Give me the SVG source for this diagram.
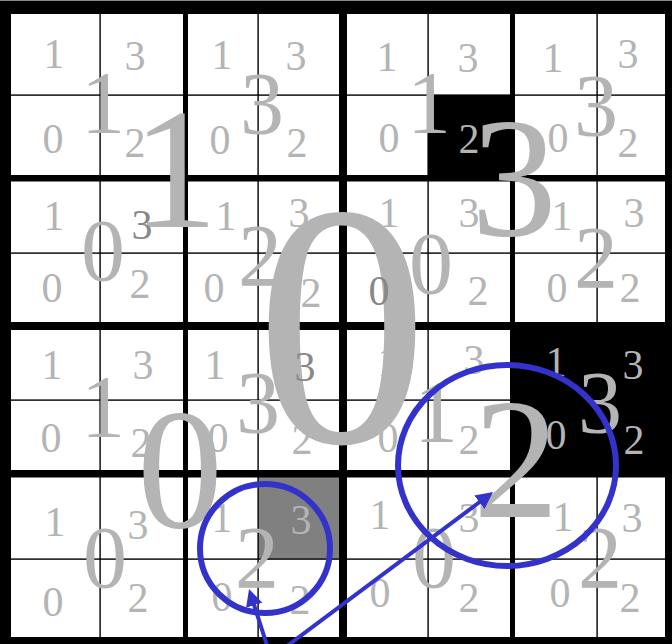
<svg xmlns="http://www.w3.org/2000/svg" width="672" height="644" viewBox="0 0 672 644">
<style>
text{font-family:"Liberation Serif","Times New Roman",serif;fill:#b4b4b4;text-anchor:middle}
.s{font-size:42px}
.m{font-size:88px}
.b{font-size:172px}
.h{font-size:346px}
.d{fill:#888}
.k{fill:#000}
.ring{fill:none;stroke:#3333cc;stroke-width:6}
.arr{stroke:#3333cc;stroke-width:4;fill:none}
</style>
<defs>
<marker id="ah" markerUnits="userSpaceOnUse" markerWidth="20" markerHeight="18" refX="2" refY="8.5" orient="auto">
<path d="M0,0 L17,8.5 L0,17 Z" fill="#3333cc"/>
</marker>
</defs>
<rect x="0" y="0" width="672" height="644" fill="#fff"/>
<g id="fills">
<rect x="428" y="95" width="84" height="83" fill="#000"/>
<rect x="512" y="326" width="153" height="148" fill="#000"/>
<rect x="258" y="474" width="85" height="85" fill="#808080"/>
</g>
<g id="grid" fill="#000">
<rect x="99.4" y="14" width="1.4" height="623"/>
<rect x="257.4" y="14" width="1.4" height="623"/>
<rect x="427.4" y="14" width="1.4" height="623"/>
<rect x="596.4" y="14" width="1.4" height="623"/>
<rect x="11" y="94.4" width="654" height="1.4"/>
<rect x="11" y="252.4" width="654" height="1.4"/>
<rect x="11" y="399.4" width="654" height="1.4"/>
<rect x="11" y="558.4" width="654" height="1.4"/>
<rect x="183" y="14" width="5" height="623"/>
<rect x="510" y="14" width="5" height="623"/>
<rect x="11" y="175" width="654" height="6.5"/>
<rect x="11" y="470" width="654" height="7.5"/>
<rect x="339" y="14" width="8" height="623"/>
<rect x="11" y="322" width="654" height="8"/>
<rect x="0" y="1" width="672" height="13"/>
<rect x="0" y="0" width="11" height="644"/>
<rect x="665" y="0" width="7" height="644"/>
<rect x="0" y="637" width="672" height="7"/>
<rect x="0" y="0" width="672" height="1" fill="#888"/>
</g>
<g id="root"><text class="h" x="342" y="442">0</text></g>
<g id="q1"><text class="b" x="175" y="227">1</text></g>
<g id="q3"><text class="b" x="514" y="235">3</text></g>
<g id="q0"><text class="b" x="180" y="527">0</text></g>
<g id="q2"><text class="b" x="516" y="517">2</text></g>
<g id="A1">
<text class="m" x="103" y="132">1</text>
<text class="s" x="54" y="68">1</text><text class="s" x="135" y="70">3</text><text class="s" x="53" y="153">0</text><text class="s" x="135" y="157">2</text>
</g>
<g id="A2">
<text class="m" x="262" y="133">3</text>
<text class="s" x="222" y="69">1</text><text class="s" x="296" y="70">3</text><text class="s" x="220" y="154">0</text><text class="s" x="297" y="157">2</text>
</g>
<g id="A3">
<text class="m" x="429" y="132">1</text>
<text class="s" x="387" y="71">1</text><text class="s" x="468" y="72">3</text><text class="s" x="389" y="152">0</text><text class="s" x="469" y="153">2</text>
</g>
<g id="A4">
<text class="m" x="596" y="135">3</text>
<text class="s" x="553" y="72">1</text><text class="s" x="628" y="68">3</text><text class="s" x="558" y="152">0</text><text class="s" x="628" y="157">2</text>
</g>
<g id="B1">
<text class="m" x="103" y="280">0</text>
<text class="s" x="54" y="230">1</text><text class="s d" x="142" y="239">3</text><text class="s" x="52" y="302">0</text><text class="s" x="140" y="298">2</text>
</g>
<g id="B2">
<text class="m" x="260" y="285">2</text>
<text class="s" x="226" y="230">1</text><text class="s" x="299" y="227">3</text><text class="s" x="214" y="302">0</text><text class="s" x="311" y="307">2</text>
</g>
<g id="B3">
<text class="m" x="431" y="293">0</text>
<text class="s" x="389" y="227">1</text><text class="s" x="469" y="227">3</text><text class="s d" x="379" y="305">0</text><text class="s" x="478" y="305">2</text>
</g>
<g id="B4">
<text class="m" x="596" y="287">2</text>
<text class="s" x="562" y="230">1</text><text class="s" x="634" y="227">3</text><text class="s" x="557" y="302">0</text><text class="s" x="630" y="302">2</text>
</g>
<g id="C1">
<text class="m" x="103" y="436">1</text>
<text class="s" x="52" y="379">1</text><text class="s" x="143" y="379">3</text><text class="s" x="51" y="452">0</text><text class="s" x="141" y="457">2</text>
</g>
<g id="C2">
<text class="m" x="258" y="432">3</text>
<text class="s" x="215" y="379">1</text><text class="s d" x="305" y="381">3</text><text class="s" x="218" y="452">0</text><text class="s" x="302" y="454">2</text>
</g>
<g id="C3">
<text class="m" x="436" y="441">1</text>
<text class="s" x="388" y="376">1</text><text class="s" x="474" y="374">3</text><text class="s" x="388" y="452">0</text><text class="s" x="469" y="454">2</text>
</g>
<g id="C4">
<text class="m" x="600" y="432">3</text>
<text class="s" x="556" y="376">1</text><text class="s" x="633" y="379">3</text><text class="s" x="556" y="449">0</text><text class="s" x="634" y="454">2</text>
</g>
<g id="D1">
<text class="m" x="105" y="587">0</text>
<text class="s" x="55" y="536">1</text><text class="s" x="138" y="539">3</text><text class="s" x="53" y="616">0</text><text class="s" x="138" y="612">2</text>
</g>
<g id="D2">
<text class="m" x="257" y="587">2</text>
<text class="s" x="222" y="532">1</text><text class="s" x="301" y="534">3</text><text class="s" x="222" y="611">0</text><text class="s" x="300" y="614">2</text>
</g>
<g id="D3">
<text class="m" x="434" y="587">0</text>
<text class="s" x="380" y="529">1</text><text class="s" x="469" y="532">3</text><text class="s" x="380" y="607">0</text><text class="s" x="469" y="612">2</text>
</g>
<g id="D4">
<text class="m" x="600" y="587">2</text>
<text class="s" x="563" y="531">1</text><text class="s" x="632" y="532">3</text><text class="s" x="560" y="607">0</text><text class="s" x="630" y="612">2</text>
</g>
<g id="highlights">
<ellipse class="ring" cx="507" cy="465.5" rx="109" ry="100.5"/>
<ellipse class="ring" cx="265" cy="548.5" rx="65" ry="64.5"/>
</g>
<g id="connectors">
<line class="arr" x1="271" y1="658" x2="253.6" y2="603.3" marker-end="url(#ah)"/>
<line class="arr" x1="271" y1="658" x2="481" y2="501" marker-end="url(#ah)"/>
</g>
</svg>
